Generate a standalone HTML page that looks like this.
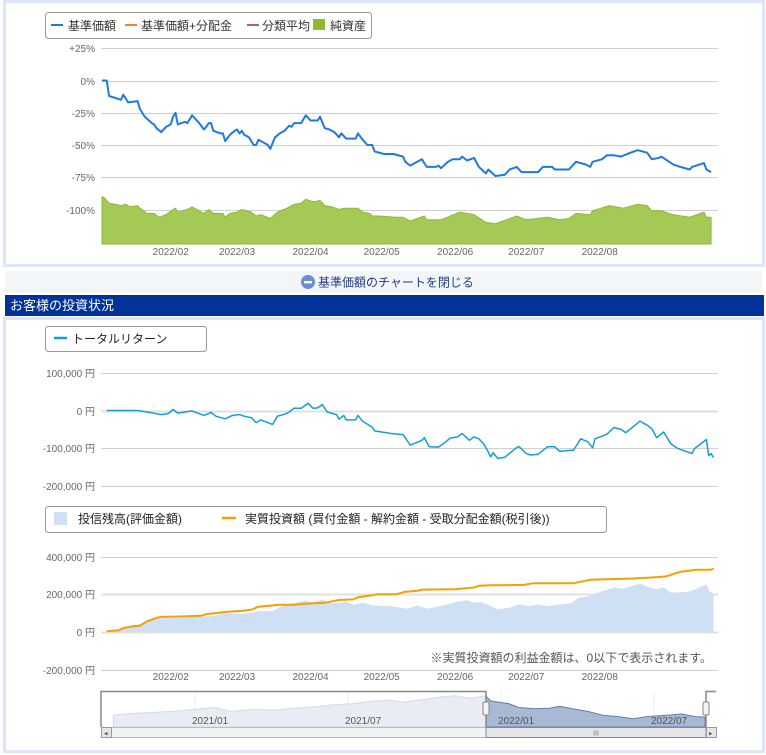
<!DOCTYPE html>
<html><head><meta charset="utf-8">
<style>
body{margin:0;background:#fff;font-family:"Liberation Sans","Noto Sans CJK JP",sans-serif;}
#wrap{position:relative;width:766px;height:755px;overflow:hidden;}
svg{position:absolute;left:0;top:0;}
</style></head>
<body>
<div id="wrap">
<svg id="s" width="766" height="755" viewBox="0 0 766 755" font-family="Liberation Sans, Noto Sans CJK JP, sans-serif">
  <rect x="4.5" y="1.5" width="759" height="264" fill="#fff" stroke="#dce5fb" stroke-width="3"/>
  <g>
    <rect x="45.5" y="12.5" width="326" height="26" rx="3" fill="#fff" stroke="#999"/>
    <line x1="51" y1="25" x2="63" y2="25" stroke="#1f7ae0" stroke-width="2"/>
    <text x="68" y="30" font-size="12" fill="#333">基準価額</text>
    <line x1="125" y1="25" x2="137" y2="25" stroke="#f58220" stroke-width="2"/>
    <text x="141" y="30" font-size="12" fill="#333">基準価額+分配金</text>
    <line x1="247" y1="25" x2="259" y2="25" stroke="#b86060" stroke-width="2"/>
    <text x="262" y="30" font-size="12" fill="#333">分類平均</text>
    <rect x="313" y="19" width="12" height="11" fill="#8dbb2a"/>
    <text x="330" y="30" font-size="12" fill="#333">純資産</text>
  </g>
  <g id="topGrid"></g>
  <g id="topSeries"></g>

  <rect x="5" y="271" width="757" height="22" fill="#f3f6f9"/>
  <circle cx="308" cy="282" r="7" fill="#6b8fd4"/>
  <rect x="304" y="281" width="8" height="2.4" fill="#fff"/>
  <text x="318" y="286.5" font-size="12" fill="#203a80">基準価額のチャートを閉じる</text>

  <rect x="5" y="295" width="759" height="21" fill="#003399"/>
  <text x="10" y="310" font-size="13" fill="#fff">お客様の投資状況</text>

  <rect x="4.5" y="318.5" width="759" height="433" fill="#fff" stroke="#dce5fb" stroke-width="3"/>
  <g>
    <rect x="45.5" y="326.5" width="161" height="25" rx="3" fill="#fff" stroke="#999"/>
    <line x1="54" y1="338" x2="67" y2="338" stroke="#159fd0" stroke-width="2.5"/>
    <text x="72" y="343" font-size="12" fill="#222">トータルリターン</text>
  </g>
  <g id="midGrid"></g>
  <g id="midSeries"></g>

  <g>
    <rect x="45.5" y="506.5" width="561" height="26" rx="3" fill="#fff" stroke="#999"/>
    <rect x="54" y="512" width="13" height="13" fill="#cfdff4"/>
    <text x="78" y="523" font-size="12" fill="#222">投信残高(評価金額)</text>
    <line x1="222" y1="518" x2="236" y2="518" stroke="#f5a000" stroke-width="2.5"/>
    <text x="245" y="523" font-size="12" fill="#222">実質投資額 (買付金額 - 解約金額 - 受取分配金額(税引後))</text>
  </g>
  <g id="botGrid"></g>
  <g id="botSeries"></g>
  <text x="712" y="662" font-size="12" fill="#555" text-anchor="end">※実質投資額の利益金額は、0以下で表示されます。</text>

  <defs>
    <clipPath id="cl"><rect x="0" y="0" width="486" height="755"/></clipPath>
    <clipPath id="cr"><rect x="486" y="0" width="220" height="755"/></clipPath>
  </defs>
  <g id="nav"></g>
</svg>
</div>
<script>
// ---- data ----
const navDays = [0,2,3,8,9,11,15,16,18,21,22,23,25,27,29,30,31,32,35,36,38,41,43,44,45,46,47,50,51,52,54,56,57,58,59,60,62,64,65,66,68,70,71,73,75,77,79,80,81,84,86,88,91,92,94,96,98,100,101,103,107,108,110,112,114,115,119,123,127,128,130,133,135,136,137,141,142,143,146,148,151,152,154,157,159,162,163,166,170,172,175,177,184,186,190,191,197,200,204,206,207,211,213,216,219,223,226,230,232,235,236,241,244,248,249,254,255,257];
const navPct = [0,0,-12,-15,-11,-17,-16,-22,-28,-33,-34,-37,-40,-36,-34,-28,-25,-34,-32,-33,-27,-33,-38,-36,-33,-33,-39,-41,-41,-47,-42,-39,-38,-41,-39,-42,-44,-50,-50,-46,-48,-50,-53,-44,-41,-39,-35,-36,-33,-33,-27,-31,-31,-28,-37,-38,-40,-44,-41,-45,-45,-41,-46,-50,-50,-55,-57,-57,-59,-63,-66,-63,-61,-64,-67,-67,-66,-68,-63,-61,-61,-59,-62,-60,-67,-72,-69,-74,-73,-69,-67,-71,-71,-67,-67,-69,-69,-63,-65,-67,-63,-61,-58,-58,-59,-56,-54,-56,-61,-60,-59,-65,-67,-69,-67,-64,-69,-71];
const assetDays = [0,1,3,8,10,12,15,16,19,22,24,27,30,31,32,36,38,43,45,47,51,52,54,57,59,63,65,67,71,74,78,81,84,86,89,92,94,97,100,102,108,110,113,114,117,124,127,130,136,137,143,151,157,162,166,175,179,188,193,197,200,206,207,214,220,226,230,232,236,241,248,254,255,257];
const assetPct = [-90,-91,-95,-97,-96,-98,-97,-99,-103,-103,-106,-104,-100,-99,-102,-100,-98,-103,-100,-103,-103,-106,-103,-102,-100,-102,-105,-104,-107,-102,-99,-96,-95,-92,-94,-93,-97,-98,-100,-99,-99,-102,-103,-105,-105,-106,-106,-109,-105,-108,-108,-102,-104,-110,-111,-105,-108,-106,-108,-107,-103,-104,-101,-97,-99,-96,-97,-101,-101,-104,-106,-102,-106,-106];
const topTicks = [25,0,-25,-50,-75,-100];
const topTickLabels = ['+25%','0%','-25%','-50%','-75%','-100%'];
const monthDays = [29,57,88,118,149,179,210];
const monthLabels = ['2022/02','2022/03','2022/04','2022/05','2022/06','2022/07','2022/08'];

const retDays = [2,15,21,25,28,30,32,38,43,46,48,52,55,58,60,63,65,67,72,74,77,79,81,84,87,89,91,93,95,99,100,102,103,107,108,110,114,115,122,127,129,130,135,136,138,142,144,147,150,152,155,157,159,161,163,164,165,167,170,175,176,179,181,184,188,191,193,199,202,205,207,208,213,216,219,221,227,230,232,234,237,240,243,249,250,255,256,257,258];
const retK = [0,0,-6,-11,-8,3,-7,-1,-13,-5,-15,-22,-13,-11,-15,-19,-32,-25,-37,-15,-10,-4,6,6,19,6,7,16,-4,-11,-23,-13,-25,-25,-13,-29,-44,-54,-61,-64,-82,-92,-79,-72,-96,-97,-88,-73,-70,-61,-79,-70,-75,-88,-110,-123,-112,-127,-124,-98,-96,-114,-118,-116,-96,-96,-108,-105,-75,-83,-99,-75,-63,-45,-50,-59,-28,-39,-48,-72,-57,-88,-101,-114,-101,-77,-120,-114,-125];
const retTicks = [100,0,-100,-200];
const retTickLabels = ['100,000 円','0 円','-100,000 円','-200,000 円'];

const investDays = [2,7,9,13,16,19,23,25,33,36,42,44,48,53,59,63,66,72,75,81,84,89,94,100,106,108,114,116,124,128,133,135,149,157,159,164,178,182,199,206,213,224,232,238,244,251,257,258];
const investK = [4,9,21,30,34,57,75,80,82,84,86,95,100,107,112,118,134,141,145,145,148,152,155,170,173,184,195,200,200,214,218,225,227,236,245,248,250,259,259,277,280,284,289,295,320,330,330,338];
const balDays = [2,7,13,17,21,27,33,42,46,52,58,63,66,72,76,80,86,89,93,96,100,103,106,110,114,122,129,133,137,144,150,154,157,160,164,167,172,176,180,184,188,193,198,201,204,207,209,216,220,227,230,234,237,240,247,251,255,256.5,258];
const balK = [0,12,27,48,66,75,75,80,84,98,96,102,111,111,138,150,168,155,173,155,152,163,145,155,141,137,123,141,123,141,161,168,155,159,137,120,129,146,138,146,137,146,152,182,186,195,209,236,230,257,241,227,236,209,212,230,254,212,204];
const balTicks = [400,200,0,-200];
const balTickLabels = ['400,000 円','200,000 円','0 円','-200,000 円'];

const overviewMonths = [-3.2,-2.8,-1.9,-0.9,0,0.8,1.4,2.3,3.1,3.9,4.7,5.4,6.2,7.0,7.7,8.1,8.9,9.6,10.2,10.8,11.4,11.6,12.3,12.7,13.3,13.9,14.3,14.8,15.4,16.0,16.6,17.2,17.7,18.5,19.1,19.6,20.0];
const overviewVals = [45,50,55,60,68,75,60,68,65,72,78,85,90,100,103,95,105,115,120,110,120,100,90,75,70,72,80,70,60,45,40,32,40,45,50,40,38];
const overviewTickMonths = [0,6,12,18];
const overviewTickLabels = ['2021/01','2021/07','2022/01','2022/07'];

// ---- scales ----
const NS='http://www.w3.org/2000/svg';
function mk(tag,attrs,parent){const e=document.createElementNS(NS,tag);for(const k in attrs)e.setAttribute(k,attrs[k]);parent.appendChild(e);return e;}
const xDay = d => 102 + d*2.37;
const yTop = p => 80.5 - p*1.29;
const yRet = k => 410.5 - k*0.377;
const yBal = k => 632 - k*0.1885;
const xNav = m => 195 + m*25.5;
const yNav = v => 727 - v*0.26;

// ---- top chart ----
const tg=document.getElementById('topGrid');
topTicks.forEach((t,i)=>{
  const y=Math.round(yTop(t))+0.5;
  const l=mk('line',{x1:101,x2:718,y1:y,y2:y,stroke:'#d0d0d0'},tg);
  
  
  const tx=mk('text',{x:95,y:y+3.5,'font-size':10,fill:'#666','text-anchor':'end'},tg);
  tx.textContent=topTickLabels[i];
  
  
});
monthDays.forEach((d,i)=>{
  const tx=mk('text',{x:xDay(d),y:255,'font-size':10,fill:'#666','text-anchor':'middle'},tg);
  tx.textContent=monthLabels[i];
  
  
});
const ts=document.getElementById('topSeries');
const areaPts=assetDays.map((d,i)=>xDay(d).toFixed(1)+','+yTop(assetPct[i]).toFixed(1));
const area=mk('polygon',{points:xDay(assetDays[0])+',244 '+areaPts.join(' ')+' '+xDay(assetDays[assetDays.length-1])+',244',fill:'#a4c954',stroke:'#8db83a','stroke-width':1},ts);


const navLine=mk('polyline',{points:navDays.map((d,i)=>xDay(d).toFixed(1)+','+yTop(navPct[i]).toFixed(1)).join(' '),fill:'none',stroke:'#1f7ae0','stroke-width':2,'stroke-linejoin':'round'},ts);



// ---- middle chart ----
const mg=document.getElementById('midGrid');
retTicks.forEach((t,i)=>{
  const y=Math.round(yRet(t))+0.5;
  const l=mk('line',{x1:101,x2:718,y1:y,y2:y,stroke:t===0?'#e0e0e0':'#d0d0d0','stroke-width':t===0?2:1},mg);
  
  
  const tx=mk('text',{x:95,y:y+3.5,'font-size':10,fill:'#666','text-anchor':'end'},mg);
  tx.textContent=retTickLabels[i];
  
  
});
const ms=document.getElementById('midSeries');
const retLine=mk('polyline',{points:retDays.map((d,i)=>xDay(d).toFixed(1)+','+yRet(retK[i]).toFixed(1)).join(' '),fill:'none',stroke:'#159fd0','stroke-width':1.5,'stroke-linejoin':'round'},ms);



// ---- bottom chart ----
const bg=document.getElementById('botGrid');
balTicks.forEach((t,i)=>{
  const y=Math.round(yBal(t))+0.5;
  const l=mk('line',{x1:101,x2:718,y1:y,y2:y,stroke:t===0||t===200?'#e0e0e0':'#d0d0d0','stroke-width':t===0||t===200?2:1},bg);
  
  
  const tx=mk('text',{x:95,y:y+3.5,'font-size':10,fill:'#666','text-anchor':'end'},bg);
  tx.textContent=balTickLabels[i];
  
  
});
monthDays.forEach((d,i)=>{
  const tx=mk('text',{x:xDay(d),y:680,'font-size':10,fill:'#666','text-anchor':'middle'},bg);
  tx.textContent=monthLabels[i];
  
  
});
const bs=document.getElementById('botSeries');
const bPts=balDays.map((d,i)=>xDay(d).toFixed(1)+','+yBal(balK[i]).toFixed(1));
const balArea=mk('polygon',{points:xDay(balDays[0])+','+yBal(0)+' '+bPts.join(' ')+' '+xDay(balDays[balDays.length-1])+','+yBal(0),fill:'#cfdff4'},bs);


const invLine=mk('polyline',{points:investDays.map((d,i)=>xDay(d).toFixed(1)+','+yBal(investK[i]).toFixed(1)).join(' '),fill:'none',stroke:'#f5a000','stroke-width':2,'stroke-linejoin':'round'},bs);



// ---- navigator ----
const nv=document.getElementById('nav');
const selX=486, selR=706;
mk('rect',{x:101,y:691,width:616,height:36,fill:'#fff'},nv);
overviewTickMonths.forEach((m)=>{
  mk('line',{x1:xNav(m),x2:xNav(m),y1:691,y2:727,stroke:'#eee'},nv);
});
const oPts=overviewMonths.map((m,i)=>xNav(m).toFixed(1)+','+yNav(overviewVals[i]).toFixed(1));
const full=xNav(overviewMonths[0])+',727 '+oPts.join(' ')+' '+xNav(overviewMonths[overviewMonths.length-1])+',727';
const oL=mk('polygon',{points:full,fill:'#e8edf3',stroke:'#d3dbe6','clip-path':'url(#cl)'},nv);


const oR=mk('polygon',{points:full,fill:'#a8b9d4',stroke:'#5f7fb0','clip-path':'url(#cr)'},nv);


overviewTickMonths.forEach((m,i)=>{
  const tx=mk('text',{x:xNav(m)-3,y:724,'font-size':10,fill:'#555'},nv);
  tx.textContent=overviewTickLabels[i];
  
  
});
mk('polyline',{points:'101,727 101,691.5 '+selX+',691.5 '+selX+',727',fill:'none',stroke:'#888','stroke-width':1.5},nv);
mk('polyline',{points:selR+',727 '+selR+',691.5 716,691.5',fill:'none',stroke:'#888','stroke-width':1.5},nv);
[selX,selR].forEach(x=>{const h=mk('rect',{x:x-3,y:702,width:6,height:13,rx:1.5,fill:'#f4f4f4',stroke:'#888'},nv);

});
const sb=mk('rect',{x:101.5,y:727.5,width:615,height:10,fill:'#f2f2f2',stroke:'#bbb'},nv);


const th=mk('rect',{x:selX,y:727.5,width:selR-selX,height:10,fill:'#e6e6e6',stroke:'#888'},nv);


mk('rect',{x:101.5,y:727.5,width:10,height:10,fill:'#e6e6e6',stroke:'#999'},nv);
mk('rect',{x:706.5,y:727.5,width:10,height:10,fill:'#e6e6e6',stroke:'#999'},nv);
mk('text',{x:104,y:735.5,'font-size':7,fill:'#555'},nv).textContent='◂';
mk('text',{x:709,y:735.5,'font-size':7,fill:'#555'},nv).textContent='▸';
mk('text',{x:596,y:735.5,'font-size':7,fill:'#777','text-anchor':'middle'},nv).textContent='III';
</script>
</body></html>
